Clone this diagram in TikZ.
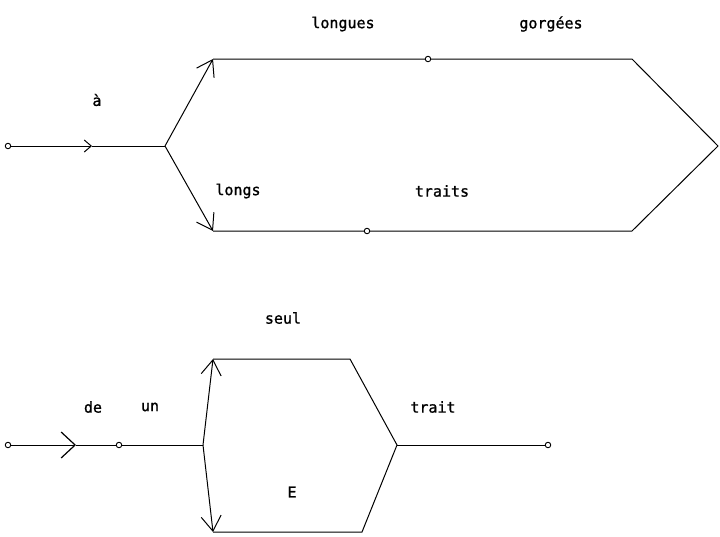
\documentclass[tikz,border=0pt]{standalone}
\usepackage{fontspec}
\newfontfamily\printfont{DejaVu Sans Mono}[FakeBold=1.2]
\usetikzlibrary{arrows.meta}
\tikzset{
  wire/.style={line width=1pt},
  port/.style={circle,draw,line width=0.9pt,inner sep=0pt,minimum size=5.5pt,fill=white},
  junc/.style={coordinate},
  word/.style={font=\printfont\fontsize{15}{18}\selectfont,inner sep=1pt},
  smallbarb/.style={-{Straight Barb[length=7pt,width=12pt,line width=1pt]}},
  bigbarb/.style={-{Straight Barb[length=15pt,width=20pt,line width=1pt]}},
  midbarb/.style={-{Straight Barb[length=14pt,width=26pt,line width=1.2pt]}}
}
\begin{document}
\begin{tikzpicture}[x=1pt,y=-1pt]
\useasboundingbox (0,0) rectangle (720,536);

% upper graph: à (longues gorgées | longs traits)
\node[port] (s1) at (8,146) {};
\coordinate (m1) at (92,146);
\node[junc] (j1) at (165,146) {};
\node[junc] (u1) at (213,59) {};
\node[port] (c1) at (428,59) {};
\node[junc] (u2) at (632,59) {};
\node[junc] (e1) at (718,146) {};
\node[junc] (d1) at (213,231) {};
\node[port] (c2) at (367,231) {};
\node[junc] (d2) at (632,231) {};

\draw[wire,smallbarb] (s1) -- (m1);
\draw[wire] (m1) -- (j1);
\draw[wire,bigbarb] (j1) -- (u1);
\draw[wire,bigbarb] (j1) -- (d1);
\draw[wire] (u1) -- (c1) -- (u2) -- (e1) -- (d2) -- (c2) -- (d1);

\node[word] (la) at (97,100) {à};
\node[word] (llongues) at (343,24) {longues};
\node[word] (lgorgees) at (551,24) {gorgées};
\node[word] (llongs) at (238,191) {longs};
\node[word] (ltraits) at (442,191) {traits};

% lower graph: de un (seul | E) trait
\node[port] (s2) at (8,445) {};
\coordinate (m2) at (76,445);
\node[port] (c3) at (119,445) {};
\node[junc] (j2) at (203,445) {};
\node[junc] (u3) at (213,359) {};
\node[junc] (u4) at (350,359) {};
\node[junc] (d3) at (213,532) {};
\node[junc] (d4) at (362,532) {};
\node[junc] (j3) at (397,445) {};
\node[port] (s3) at (548,445) {};

\draw[wire,midbarb] (s2) -- (m2);
\draw[wire] (m2) -- (c3) -- (j2);
\draw[wire,bigbarb] (j2) -- (u3);
\draw[wire,bigbarb] (j2) -- (d3);
\draw[wire] (u3) -- (u4) -- (j3) -- (d4) -- (d3);
\draw[wire] (j3) -- (s3);

\node[word] (lde) at (93,407) {de};
\node[word] (lun) at (150,407) {un};
\node[word] (lseul) at (283,318) {seul};
\node[word] (ltrait) at (433,407) {trait};
\node[word] (lE) at (292,492) {E};
\end{tikzpicture}
\end{document}
